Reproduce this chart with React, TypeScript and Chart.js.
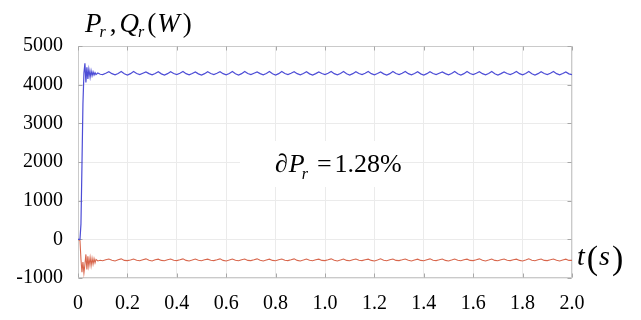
import { useEffect, useRef } from 'react';
import { Chart, registerables } from 'chart.js';

Chart.register(...registerables);

// time axis (s)
const timeS = [
  0, 0.008, 0.012, 0.016, 0.02, 0.024, 0.028, 0.032, 0.036, 0.04,
  0.044, 0.049, 0.053, 0.057, 0.061, 0.065, 0.069, 0.073, 0.08, 0.09,
  0.1, 0.1125, 0.125, 0.1375, 0.15, 0.1625, 0.175, 0.1875,
  0.2, 0.2125, 0.225, 0.2375, 0.25, 0.2625, 0.275, 0.2875,
  0.3, 0.3125, 0.325, 0.3375, 0.35, 0.3625, 0.375, 0.3875,
  0.4, 0.4125, 0.425, 0.4375, 0.45, 0.4625, 0.475, 0.4875,
  0.5, 0.5125, 0.525, 0.5375, 0.55, 0.5625, 0.575, 0.5875,
  0.6, 0.6125, 0.625, 0.6375, 0.65, 0.6625, 0.675, 0.6875,
  0.7, 0.7125, 0.725, 0.7375, 0.75, 0.7625, 0.775, 0.7875,
  0.8, 0.8125, 0.825, 0.8375, 0.85, 0.8625, 0.875, 0.8875,
  0.9, 0.9125, 0.925, 0.9375, 0.95, 0.9625, 0.975, 0.9875,
  1.0, 1.0125, 1.025, 1.0375, 1.05, 1.0625, 1.075, 1.0875,
  1.1, 1.1125, 1.125, 1.1375, 1.15, 1.1625, 1.175, 1.1875,
  1.2, 1.2125, 1.225, 1.2375, 1.25, 1.2625, 1.275, 1.2875,
  1.3, 1.3125, 1.325, 1.3375, 1.35, 1.3625, 1.375, 1.3875,
  1.4, 1.4125, 1.425, 1.4375, 1.45, 1.4625, 1.475, 1.4875,
  1.5, 1.5125, 1.525, 1.5375, 1.55, 1.5625, 1.575, 1.5875,
  1.6, 1.6125, 1.625, 1.6375, 1.65, 1.6625, 1.675, 1.6875,
  1.7, 1.7125, 1.725, 1.7375, 1.75, 1.7625, 1.775, 1.7875,
  1.8, 1.8125, 1.825, 1.8375, 1.85, 1.8625, 1.875, 1.8875,
  1.9, 1.9125, 1.925, 1.9375, 1.95, 1.9625, 1.975, 1.9875,
  2.0,
];

// rotor active power P_r (W)
const activePowerW = [
  0, 0, 400, 1900, 3500, 4300, 4550, 4060, 4450, 4150,
  4400, 4190, 4360, 4230, 4330, 4250, 4310, 4260, 4300, 4270,
  4260, 4295, 4335, 4285, 4255, 4290, 4340, 4280,
  4250, 4285, 4340, 4290, 4260, 4295, 4330, 4285,
  4255, 4290, 4335, 4280, 4250, 4285, 4335, 4290,
  4260, 4295, 4340, 4285, 4255, 4290, 4330, 4280,
  4250, 4285, 4335, 4290, 4260, 4295, 4335, 4285,
  4255, 4290, 4340, 4280, 4250, 4285, 4340, 4290,
  4260, 4295, 4330, 4285, 4255, 4290, 4340, 4280,
  4250, 4285, 4340, 4290, 4260, 4295, 4335, 4285,
  4255, 4290, 4335, 4280, 4250, 4285, 4330, 4290,
  4260, 4295, 4340, 4285, 4255, 4290, 4340, 4280,
  4250, 4285, 4335, 4290, 4260, 4295, 4340, 4285,
  4255, 4290, 4330, 4280, 4250, 4285, 4340, 4290,
  4260, 4295, 4340, 4285, 4255, 4290, 4335, 4280,
  4250, 4285, 4335, 4290, 4260, 4295, 4330, 4285,
  4255, 4290, 4340, 4280, 4250, 4285, 4340, 4290,
  4260, 4295, 4335, 4285, 4255, 4290, 4340, 4280,
  4250, 4285, 4330, 4290, 4260, 4295, 4340, 4285,
  4255, 4290, 4340, 4280, 4250, 4285, 4335, 4290,
  4260, 4295, 4340, 4285, 4255, 4290, 4330, 4280,
  4260,
];

// rotor reactive power Q_r (W)
const reactivePowerW = [
  0, -30, -520, -850, -590, -870, -650, -390, -780, -440,
  -700, -470, -680, -490, -640, -500, -610, -520, -560, -540,
  -555, -530, -510, -540, -560, -528, -505, -545,
  -550, -535, -510, -540, -555, -528, -505, -540,
  -560, -530, -512, -545, -555, -528, -508, -540,
  -550, -530, -505, -545, -560, -535, -508, -540,
  -555, -528, -512, -540, -550, -530, -505, -545,
  -560, -535, -508, -540, -555, -528, -508, -545,
  -550, -530, -505, -540, -560, -535, -512, -545,
  -555, -528, -508, -540, -550, -530, -505, -545,
  -560, -535, -508, -540, -555, -528, -512, -545,
  -550, -530, -505, -540, -560, -535, -508, -545,
  -555, -528, -508, -540, -550, -530, -512, -545,
  -560, -535, -505, -540, -555, -528, -508, -545,
  -550, -530, -508, -540, -560, -535, -512, -545,
  -555, -528, -505, -540, -550, -530, -508, -545,
  -560, -535, -508, -540, -555, -528, -512, -545,
  -550, -530, -505, -540, -560, -535, -508, -545,
  -555, -528, -508, -540, -550, -530, -512, -545,
  -560, -535, -505, -540, -555, -528, -508, -545,
  -550, -530, -508, -540, -560, -535, -512, -545,
  -545,
];

const xTickValues = [0, 0.2, 0.4, 0.6, 0.8, 1.0, 1.2, 1.4, 1.6, 1.8, 2.0];
const xTickLabels = ['0', '0.2', '0.4', '0.6', '0.8', '1.0', '1.2', '1.4', '1.6', '1.8', '2.0'];
const yTickValues = [-1000, 0, 1000, 2000, 3000, 4000, 5000];
const yTickLabels = ['-1000', '0', '1000', '2000', '3000', '4000', '5000'];

const SERIF = "'Liberation Serif', 'Times New Roman', Times, serif";
Chart.defaults.font.family = SERIF;

function setFont(ctx: CanvasRenderingContext2D, size: number, italic: boolean) {
  ctx.font = `${italic ? 'italic ' : ''}${size}px ${SERIF}`;
}

// draws consecutive pieces [text, size, italic, dy, gapBefore]
function drawRun(ctx: CanvasRenderingContext2D, x0: number, y: number, parts: [string, number, boolean, number, number][]) {
  let x = x0;
  for (const [text, size, italic, dy, gap] of parts) {
    x += gap;
    setFont(ctx, size, italic);
    ctx.fillText(text, x, y + dy);
    x += ctx.measureText(text).width;
  }
}

const decorPlugin = {
  id: 'decor',
  beforeDatasetsDraw(chart: any) {
    const { ctx, chartArea: a, scales } = chart;
    ctx.save();
    // white patch behind the annotation
    ctx.fillStyle = '#ffffff';
    ctx.fillRect(240, 141, 160, 46);
    // frame
    ctx.strokeStyle = '#cacaca';
    ctx.lineWidth = 1;
    const l = Math.round(a.left) + 0.5;
    const r = Math.round(a.right) - 0.5;
    const t = Math.round(a.top) + 0.5;
    const b = Math.round(a.bottom) - 0.5;
    ctx.strokeRect(l, t, r - l, b - t);
    // inward tick marks
    ctx.strokeStyle = '#a8a8a8';
    ctx.beginPath();
    for (const v of xTickValues) {
      const px = Math.round(scales.x.getPixelForValue(v)) + 0.5;
      ctx.moveTo(px, b); ctx.lineTo(px, b - 4);
      ctx.moveTo(px, t); ctx.lineTo(px, t + 4);
    }
    for (const v of yTickValues) {
      const py = Math.round(scales.y.getPixelForValue(v)) + 0.5;
      ctx.moveTo(l, py); ctx.lineTo(l + 4, py);
      ctx.moveTo(r, py); ctx.lineTo(r - 4, py);
    }
    ctx.stroke();
    ctx.restore();
  },
  afterDraw(chart: any) {
    const { ctx } = chart;
    ctx.save();
    ctx.fillStyle = '#000000';
    ctx.textBaseline = 'alphabetic';
    ctx.textAlign = 'left';
    // y-axis title: P_r , Q_r (W)
    drawRun(ctx, 85, 32, [
      ['P', 27, true, 0, 0],
      ['r', 16, true, 5, -2],
      [',', 27, false, 0, 4],
      ['Q', 27, true, 0, 3],
      ['r', 16, true, 5, -1],
      ['(', 27, false, 0, 3],
      ['W', 27, true, 0, 1],
      [')', 27, false, 0, 3],
    ]);
    // annotation: ∂P_r = 1.28%
    drawRun(ctx, 275, 172, [
      ['\u2202', 26, true, 0, 0],
      ['P', 26, true, 0, 1],
      ['r', 16, true, 7, -3],
      ['=', 26, false, 0, 9],
      ['1.28%', 26, false, 0, 3],
    ]);
    // x-axis title: t(s)
    drawRun(ctx, 577, 265, [
      ['t', 28, true, 0, 0],
      ['(', 34, false, 4, 2],
      ['s', 28, true, 0, 1],
      [')', 34, false, 4, 2],
    ]);
    ctx.restore();
  },
};

export default function App() {
  const canvasRef = useRef<HTMLCanvasElement | null>(null);

  useEffect(() => {
    const canvas = canvasRef.current;
    if (!canvas) return;
    const chart = new Chart(canvas, {
      type: 'line',
      data: {
        datasets: [
          {
            label: 'P_r',
            data: timeS.map((t, i) => ({ x: t, y: activePowerW[i] })),
            borderColor: '#4d4dd6',
            borderWidth: 1.2,
            pointRadius: 0,
            tension: 0,
            fill: false,
          },
          {
            label: 'Q_r',
            data: timeS.map((t, i) => ({ x: t, y: reactivePowerW[i] })),
            borderColor: '#d8664c',
            borderWidth: 1.1,
            pointRadius: 0,
            tension: 0,
            fill: false,
          },
        ],
      },
      options: {
        responsive: false,
        animation: false,
        devicePixelRatio: 1,
        layout: { padding: { left: 0, right: 69, top: 46, bottom: 0 } },
        plugins: {
          legend: { display: false },
          tooltip: { enabled: false },
          title: { display: false },
        },
        scales: {
          x: {
            type: 'linear',
            min: 0,
            max: 2,
            afterBuildTicks: (scale: any) => {
              scale.ticks = xTickValues.map((v) => ({ value: v }));
            },
            afterFit: (scale: any) => {
              scale.height = 42;
            },
            grid: { color: '#ebebeb', lineWidth: 1, drawTicks: false },
            border: { display: false },
            ticks: {
              padding: 14,
              color: '#000000',
              maxRotation: 0,
              autoSkip: false,
              font: { family: SERIF, size: 20, style: 'normal' },
              callback: (_v: any, i: number) => xTickLabels[i],
            },
          },
          y: {
            type: 'linear',
            min: -1000,
            max: 5000,
            afterBuildTicks: (scale: any) => {
              scale.ticks = yTickValues.map((v) => ({ value: v }));
            },
            afterFit: (scale: any) => {
              scale.width = 78;
            },
            grid: { color: '#ebebeb', lineWidth: 1, drawTicks: false },
            border: { display: false },
            ticks: {
              padding: 15,
              color: '#000000',
              autoSkip: false,
              font: { family: SERIF, size: 20, style: 'normal' },
              callback: (_v: any, i: number) => yTickLabels[i],
            },
          },
        },
      },
      plugins: [decorPlugin],
    });
    return () => chart.destroy();
  }, []);

  return (
    <div style={{ position: 'fixed', left: 0, top: 0, width: 641, height: 320, background: '#ffffff' }}>
      <canvas ref={canvasRef} width={641} height={320} style={{ display: 'block', width: 641, height: 320 }} />
    </div>
  );
}
